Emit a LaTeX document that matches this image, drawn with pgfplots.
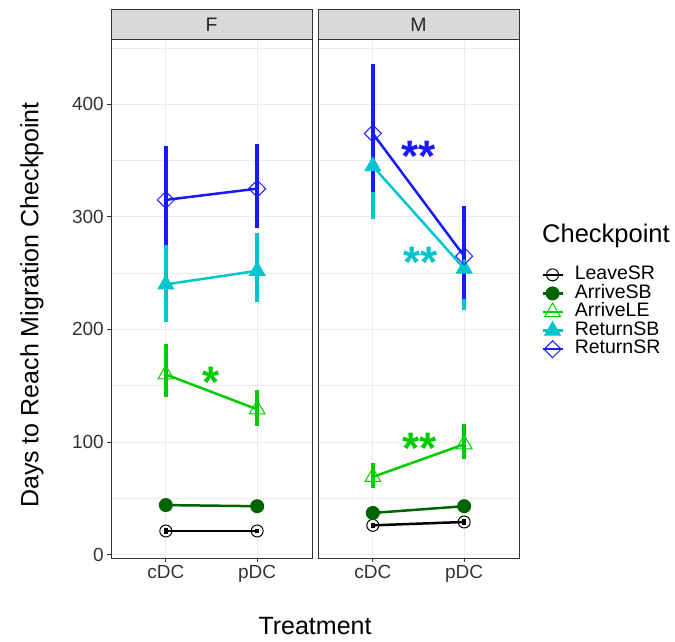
\documentclass[border=0pt]{standalone}
\usepackage{pgfplots}
\pgfplotsset{compat=1.18}
\usepackage{fontspec}
\setmainfont{Liberation Sans}

\definecolor{grey20}{RGB}{51,51,51}
\definecolor{grey85}{RGB}{217,217,217}
\definecolor{grey92}{RGB}{235,235,235}
\definecolor{cLeave}{RGB}{0,0,0}
\definecolor{cArrSB}{RGB}{0,100,0}
\definecolor{cArrLE}{RGB}{0,205,0}
\definecolor{cRetSB}{RGB}{0,197,205}
\definecolor{cRetSR}{RGB}{25,25,255}

\pgfplotsset{
  panel/.style={
    scale only axis, width=201pt, height=518pt,
    xmin=0.4, xmax=2.6, ymin=-3, ymax=457,
    xtick={1,2}, xticklabels={cDC,pDC},
    ytick={0,100,200,300,400},
    minor ytick={50,150,250,350,450},
    grid=both,
    major grid style={grey92, line width=1pt},
    minor grid style={grey92, line width=0.5pt},
    axis line style={grey20, line width=1pt},
    tick style={grey20, line width=1pt},
    tick align=outside, major tick length=4pt, minor tick length=0pt,
    xtick pos=left, ytick pos=left,
    /pgf/number format/assume math mode=true,
    ticklabel style={font=\fontsize{19}{19}\selectfont, text=black!80},
    yticklabel style={inner sep=3pt},
  },
  ser/.style={line width=2.5pt, mark options={line width=1pt, solid},
    error bars/y dir=both, error bars/y explicit, error bars/error mark=none,
    error bars/error bar style={line width=4pt}},
  leavesr/.style={ser, cLeave, mark=o, mark size=6pt},
  arrsb/.style={ser, cArrSB, mark=*, mark size=6.5pt},
  arrle/.style={ser, cArrLE, mark=triangle, mark size=9pt},
  retsb/.style={ser, cRetSB, mark=triangle*, mark size=9pt},
  retsr/.style={ser, cRetSR, mark=square, mark size=6pt,
    mark options={rotate=45, line width=1pt, solid}},
}

\begin{document}
\begin{tikzpicture}
\path[use as bounding box] (0,0) rectangle (675pt,641pt);

% panel F
\begin{axis}[panel, at={(111pt,83pt)}, anchor=south west]
\addplot[leavesr] coordinates {(1,21) += (0,2.5) -= (0,2.5) (2,21) += (0,2) -= (0,2)};
\addplot[arrsb] coordinates {(1,44) += (0,3) -= (0,3) (2,43) += (0,3) -= (0,3)};
\addplot[arrle] coordinates {(1,160) += (0,27) -= (0,20) (2,129) += (0,17) -= (0,15)};
\addplot[retsb] coordinates {(1,240) += (0,37) -= (0,33) (2,252) += (0,34) -= (0,28)};
\addplot[retsr] coordinates {(1,315) += (0,48) -= (0,40) (2,325) += (0,40) -= (0,35)};
\node[anchor=north, inner sep=0pt, text=cArrLE, font=\fontsize{44}{44}\selectfont\bfseries] at (axis cs:1.49,167) {*};
\end{axis}

% panel M
\begin{axis}[panel, at={(318pt,83pt)}, anchor=south west,
  yticklabels={}, y tick style={draw=none},
  legend style={at={(rel axis cs:1.11,0.565)}, anchor=north west, draw=none, fill=none,
    font=\fontsize{19.5}{19.5}\selectfont, row sep=0pt, inner sep=0pt,
    nodes={inner sep=0pt, inner xsep=11pt, text height=14pt, text depth=4.6pt}},
  legend cell align=left,
  legend image code/.code={\draw[mark repeat=2,mark phase=2,#1] plot coordinates {(0pt,0pt) (10pt,0pt) (20pt,0pt)};}]
\addplot[leavesr] coordinates {(1,26) += (0,2.5) -= (0,2.5) (2,29) += (0,3) -= (0,3)};
\addlegendentry{LeaveSR}
\addplot[arrsb] coordinates {(1,37) += (0,3) -= (0,3) (2,43) += (0,3) -= (0,3)};
\addlegendentry{ArriveSB}
\addplot[arrle] coordinates {(1,69) += (0,12) -= (0,10) (2,98) += (0,18) -= (0,13)};
\addlegendentry{ArriveLE}
\addplot[retsb] coordinates {(1,345) += (0,59) -= (0,47) (2,254) += (0,41) -= (0,37)};
\addlegendentry{ReturnSB}
\addplot[retsr] coordinates {(1,374) += (0,62) -= (0,52) (2,265) += (0,45) -= (0,38)};
\addlegendentry{ReturnSR}
\node[anchor=north, inner sep=0pt, text=cRetSR, font=\fontsize{44}{44}\selectfont\bfseries] at (axis cs:1.5,367) {**};
\node[anchor=north, inner sep=0pt, text=cRetSB, font=\fontsize{44}{44}\selectfont\bfseries] at (axis cs:1.52,273) {**};
\node[anchor=north, inner sep=0pt, text=cArrLE, font=\fontsize{44}{44}\selectfont\bfseries] at (axis cs:1.51,108) {**};
\end{axis}

% facet strips
\draw[grey20, line width=1pt, fill=grey85] (111pt,601pt) rectangle (312pt,631pt);
\draw[grey20, line width=1pt, fill=grey85] (318pt,601pt) rectangle (519pt,631pt);
\node[font=\fontsize{19.5}{19.5}\selectfont, text=black!85] at (211.5pt,616pt) {F};
\node[font=\fontsize{19.5}{19.5}\selectfont, text=black!85] at (418.5pt,616pt) {M};

% titles
\node[rotate=90, font=\fontsize{25}{25}\selectfont] at (32pt,336pt) {Days to Reach Migration Checkpoint};
\node[anchor=base, font=\fontsize{25}{25}\selectfont] at (315pt,7pt) {Treatment};
\node[anchor=base west, inner sep=0pt, font=\fontsize{25.5}{25.5}\selectfont] at (542pt,398pt) {Checkpoint};
\end{tikzpicture}
\end{document}
